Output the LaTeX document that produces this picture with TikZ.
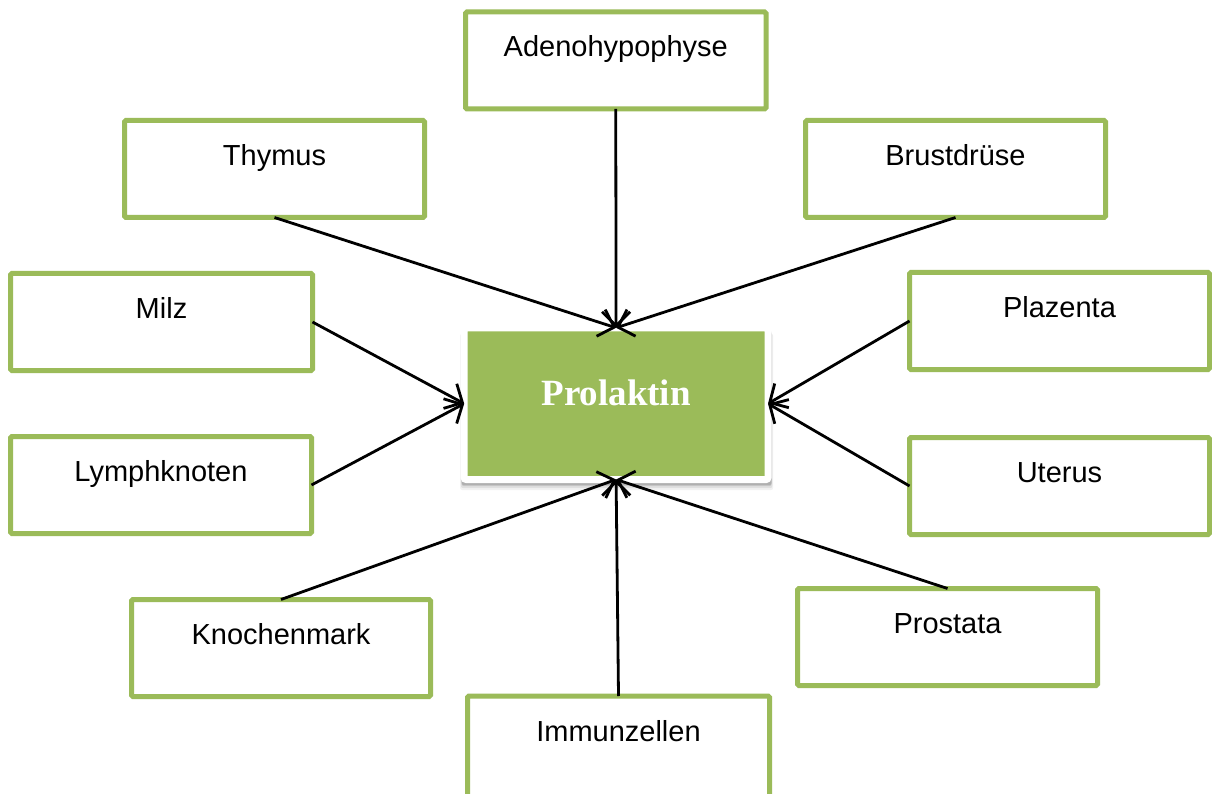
\documentclass[tikz,border=0pt]{standalone}
\usepackage{fontspec}
\setmainfont{Liberation Sans}
\newfontfamily\serifbold{Liberation Serif}
\usetikzlibrary{arrows.meta,shadows}
\definecolor{olive}{HTML}{9BBB59}
\begin{document}
\begin{tikzpicture}[x=1pt,y=-1pt,
  organ/.style={rectangle, draw=olive, line width=5pt, rounded corners=1.5pt, fill=white, inner sep=0pt, outer sep=0pt,
    anchor=north west, minimum width=300pt, text height=45pt, text depth=52pt,
    font=\fontsize{29}{34}\selectfont},
  hub/.style={rectangle, fill=olive, draw=white, line width=7pt, rounded corners=2pt,
    inner sep=0pt, outer sep=0pt, minimum width=303.8pt, minimum height=151.7pt,
    text height=25pt, text depth=22.3pt, text=white,
    font=\serifbold\bfseries\fontsize{37}{40}\selectfont,
    general shadow={shadow xshift=0.5pt, shadow yshift=-8pt, shadow scale=1.03, fill=black, opacity=0.05},
    general shadow={shadow xshift=0.5pt, shadow yshift=-6.5pt, shadow scale=1.025, fill=black, opacity=0.07},
    general shadow={shadow xshift=0.5pt, shadow yshift=-5pt, shadow scale=1.02, fill=black, opacity=0.10},
    general shadow={shadow xshift=0.5pt, shadow yshift=-4pt, shadow scale=1.02, fill=black, opacity=0.12}},
  link/.style={line width=2.8pt, -{Straight Barb[length=14pt,width=28pt,line width=2.8pt]}}]
\clip (0,0) rectangle (1212,794);
\fill[white] (0,0) rectangle (1212,794);

\node[organ, minimum width=300.5pt] (adeno) at (465.5,12) {Adenohypophyse};
\node[organ] (thymus) at (124.5,120.5) {Thymus};
\node[organ] (brust) at (805.5,120.5) {Brustdrüse};
\node[organ, minimum width=302pt] (milz) at (10.5,273.5) {Milz};
\node[organ] (plazenta) at (909.5,272.5) {Plazenta};
\node[organ, minimum width=301pt] (lymph) at (10.5,436.5) {Lymphknoten};
\node[organ] (uterus) at (909.5,437.5) {Uterus};
\node[organ, minimum width=299pt] (knochen) at (131.5,599.5) {Knochenmark};
\node[organ] (prostata) at (797.5,588.5) {Prostata};
\node[organ, minimum width=302pt, text depth=62pt] (immun) at (467.5,696) {Immunzellen};

\node[hub] (prl) at (616.1,403.65) {Prolaktin};

\draw[link] (adeno.south) -- (prl.north);
\draw[link] (thymus.south) -- (prl.north);
\draw[link] (brust.south) -- (prl.north);
\draw[link] (milz.east) -- (prl.west);
\draw[link] (lymph.east) -- (prl.west);
\draw[link] (plazenta.west) -- (prl.east);
\draw[link] (uterus.west) -- (prl.east);
\draw[link] (knochen.north) -- (prl.south);
\draw[link] (immun.north) -- (prl.south);
\draw[link] (prostata.north) -- (prl.south);
\end{tikzpicture}
\end{document}
